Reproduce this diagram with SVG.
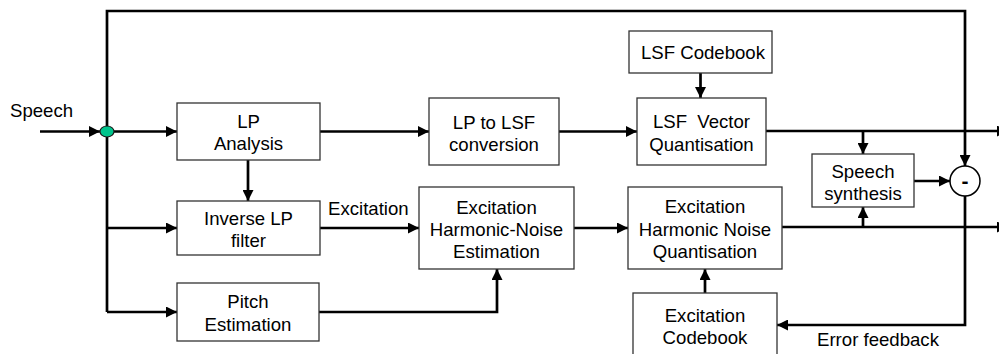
<svg xmlns="http://www.w3.org/2000/svg" width="999" height="354" viewBox="0 0 999 354">
  <style>
    .box { fill: #ffffff; stroke: #333333; stroke-width: 1.3; }
    .lbl { font-family: "Liberation Sans", Arial, sans-serif; font-size: 18.6px; fill: #000000; }
    .mid { text-anchor: middle; }
    .wire { fill: none; stroke: #000000; stroke-width: 2.7; }
    .arr { marker-end: url(#head); }
  </style>
  <defs>
    <marker id="head" markerUnits="userSpaceOnUse" markerWidth="12" markerHeight="11" refX="11" refY="5.5" orient="auto">
      <path d="M0,0 L11,5.5 L0,11 Z" fill="#000000"/>
    </marker>
  </defs>
  <rect width="999" height="354" fill="#ffffff"/>

  <g id="connectors">
    <!-- speech input -->
    <path class="wire arr" d="M40,131.5 H100"/>
    <!-- feed-forward loop over the top into the subtractor -->
    <path class="wire arr" d="M107,131.5 V11 H965 V166"/>
    <!-- left distribution bus -->
    <path class="wire" d="M107,131.5 V312"/>
    <path class="wire arr" d="M114,131.5 H177"/>
    <path class="wire arr" d="M107,228 H177"/>
    <path class="wire arr" d="M107,312 H177"/>
    <!-- LP chain -->
    <path class="wire arr" d="M248,160 V201"/>
    <path class="wire arr" d="M320,131.5 H429"/>
    <path class="wire arr" d="M559,131.5 H637"/>
    <path class="wire arr" d="M700.5,73 V98"/>
    <path class="wire arr" d="M766,131 H1008"/>
    <path class="wire arr" d="M863,131 V154"/>
    <!-- excitation chain -->
    <path class="wire arr" d="M320,228 H419"/>
    <path class="wire arr" d="M319,312 H497 V269"/>
    <path class="wire arr" d="M574,228 H628"/>
    <path class="wire arr" d="M782,227 H1008"/>
    <path class="wire arr" d="M863,227 V207"/>
    <path class="wire arr" d="M705,293 V269"/>
    <!-- synthesis to subtractor and error feedback -->
    <path class="wire arr" d="M914,181 H950"/>
    <path class="wire arr" d="M965,196 V325 H777"/>
  </g>

  <g id="junction">
    <ellipse cx="107" cy="131.5" rx="7" ry="5.5" fill="#00c48c" stroke="#1a1a1a" stroke-width="1.2"/>
  </g>

  <text class="lbl" x="10" y="117">Speech</text>
  <text class="lbl" x="328" y="215">Excitation</text>
  <text class="lbl" x="817" y="346">Error feedback</text>

  <g id="lp-analysis">
    <rect class="box" x="177" y="103" width="143" height="57"/>
    <text class="lbl mid" x="248.5" y="127.5">LP</text>
    <text class="lbl mid" x="248.5" y="150">Analysis</text>
  </g>

  <g id="lp-to-lsf">
    <rect class="box" x="429" y="98" width="130" height="67"/>
    <text class="lbl mid" x="494" y="129">LP to LSF</text>
    <text class="lbl mid" x="494" y="150.5">conversion</text>
  </g>

  <g id="lsf-codebook">
    <rect class="box" x="629" y="31" width="143" height="42"/>
    <text class="lbl mid" x="703" y="59">LSF Codebook</text>
  </g>

  <g id="lsf-vq">
    <rect class="box" x="637" y="98" width="129" height="67"/>
    <text class="lbl mid" x="701.5" y="128" xml:space="preserve">LSF  Vector</text>
    <text class="lbl mid" x="701.5" y="150.5">Quantisation</text>
  </g>

  <g id="speech-synthesis">
    <rect class="box" x="812" y="154" width="102" height="53"/>
    <text class="lbl mid" x="863" y="177.6">Speech</text>
    <text class="lbl mid" x="863" y="200">synthesis</text>
  </g>

  <g id="subtractor">
    <circle cx="965" cy="181" r="15" fill="#ffffff" stroke="#000000" stroke-width="1.5"/>
    <text x="965" y="188" text-anchor="middle" font-family="Liberation Sans, Arial, sans-serif" font-size="21" font-weight="bold">-</text>
  </g>

  <g id="inverse-lp">
    <rect class="box" x="177" y="201" width="143" height="54"/>
    <text class="lbl mid" x="248.5" y="225">Inverse LP</text>
    <text class="lbl mid" x="248.5" y="246.6">filter</text>
  </g>

  <g id="pitch-estimation">
    <rect class="box" x="177" y="283" width="142" height="58"/>
    <text class="lbl mid" x="248" y="308">Pitch</text>
    <text class="lbl mid" x="248" y="330.6">Estimation</text>
  </g>

  <g id="excitation-estimation">
    <rect class="box" x="419" y="187" width="155" height="82"/>
    <text class="lbl mid" x="496.5" y="213.6">Excitation</text>
    <text class="lbl mid" x="496.5" y="235.8">Harmonic-Noise</text>
    <text class="lbl mid" x="496.5" y="258.4">Estimation</text>
  </g>

  <g id="excitation-quantisation">
    <rect class="box" x="628" y="187" width="154" height="82"/>
    <text class="lbl mid" x="705" y="212.6">Excitation</text>
    <text class="lbl mid" x="705" y="235.8">Harmonic Noise</text>
    <text class="lbl mid" x="705" y="258.2">Quantisation</text>
  </g>

  <g id="excitation-codebook">
    <rect class="box" x="633" y="293" width="144" height="70"/>
    <text class="lbl mid" x="705" y="322">Excitation</text>
    <text class="lbl mid" x="705" y="344">Codebook</text>
  </g>
</svg>
